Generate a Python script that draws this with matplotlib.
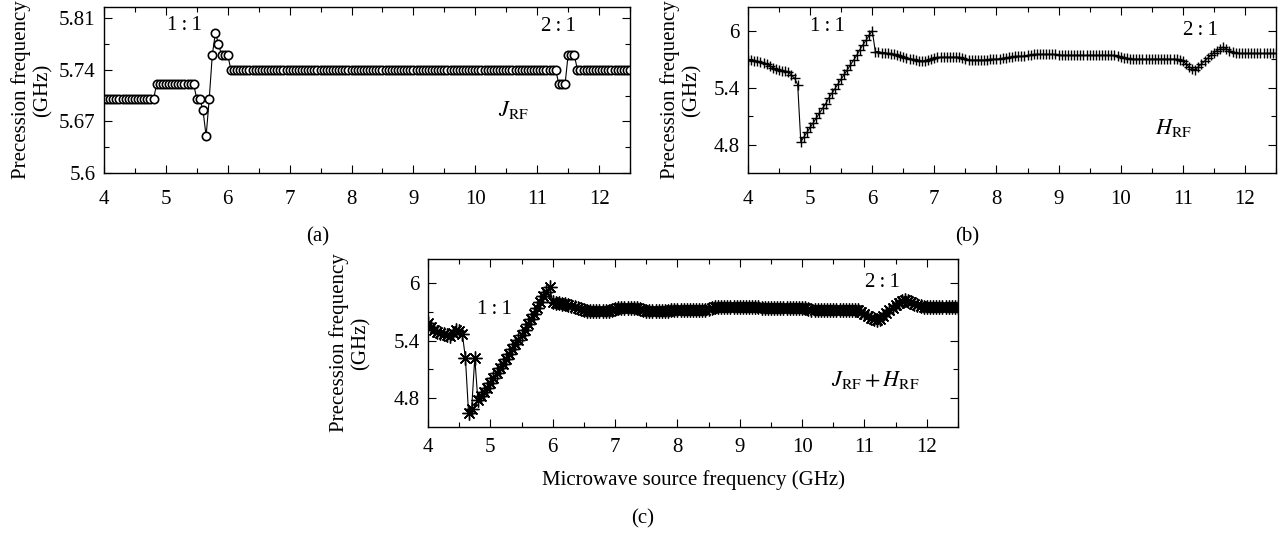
import numpy as np
import matplotlib
matplotlib.use("Agg")
import matplotlib.pyplot as plt
from matplotlib.ticker import MultipleLocator, FixedLocator

plt.rcParams['font.family'] = ['Liberation Serif', 'DejaVu Serif']
plt.rcParams['mathtext.fontset'] = 'stix'

# Microwave source frequency sweep (GHz), 0.05 GHz steps from 4 to 12.5
freq = np.round(np.arange(4.0, 12.5001, 0.05), 2)

# (a) J_RF : precession frequency (GHz)
prec_jrf = [
    5.70, 5.70, 5.70, 5.70, 5.70, 5.70, 5.70, 5.70, 5.70, 5.70,
    5.70, 5.70, 5.70, 5.70, 5.70, 5.70, 5.70, 5.72, 5.72, 5.72,
    5.72, 5.72, 5.72, 5.72, 5.72, 5.72, 5.72, 5.72, 5.72, 5.72,
    5.70, 5.70, 5.685, 5.65, 5.70, 5.76, 5.79, 5.775, 5.76, 5.76,
    5.76, 5.74, 5.74, 5.74, 5.74, 5.74, 5.74, 5.74, 5.74, 5.74,
    5.74, 5.74, 5.74, 5.74, 5.74, 5.74, 5.74, 5.74, 5.74, 5.74,
    5.74, 5.74, 5.74, 5.74, 5.74, 5.74, 5.74, 5.74, 5.74, 5.74,
    5.74, 5.74, 5.74, 5.74, 5.74, 5.74, 5.74, 5.74, 5.74, 5.74,
    5.74, 5.74, 5.74, 5.74, 5.74, 5.74, 5.74, 5.74, 5.74, 5.74,
    5.74, 5.74, 5.74, 5.74, 5.74, 5.74, 5.74, 5.74, 5.74, 5.74,
    5.74, 5.74, 5.74, 5.74, 5.74, 5.74, 5.74, 5.74, 5.74, 5.74,
    5.74, 5.74, 5.74, 5.74, 5.74, 5.74, 5.74, 5.74, 5.74, 5.74,
    5.74, 5.74, 5.74, 5.74, 5.74, 5.74, 5.74, 5.74, 5.74, 5.74,
    5.74, 5.74, 5.74, 5.74, 5.74, 5.74, 5.74, 5.74, 5.74, 5.74,
    5.74, 5.74, 5.74, 5.74, 5.74, 5.74, 5.74, 5.72, 5.72, 5.72,
    5.76, 5.76, 5.76, 5.74, 5.74, 5.74, 5.74, 5.74, 5.74, 5.74,
    5.74, 5.74, 5.74, 5.74, 5.74, 5.74, 5.74, 5.74, 5.74, 5.74,
    5.74,
]

# (b) H_RF
prec_hrf = [
    5.69, 5.69, 5.68, 5.68, 5.67, 5.66, 5.65, 5.63, 5.61, 5.60,
    5.59, 5.58, 5.575, 5.565, 5.53, 5.50, 5.43, 4.83, 4.88, 4.93,
    4.98, 5.03, 5.08, 5.13, 5.18, 5.23, 5.29, 5.34, 5.39, 5.44,
    5.49, 5.54, 5.59, 5.64, 5.69, 5.74, 5.80, 5.85, 5.90, 5.95,
    6.00, 5.78, 5.78, 5.77, 5.77, 5.76, 5.75, 5.75, 5.74, 5.73,
    5.72, 5.71, 5.70, 5.70, 5.69, 5.68, 5.68, 5.68, 5.69, 5.70,
    5.71, 5.72, 5.72, 5.72, 5.72, 5.72, 5.72, 5.72, 5.72, 5.71,
    5.70, 5.69, 5.69, 5.69, 5.69, 5.69, 5.69, 5.69, 5.70, 5.70,
    5.70, 5.70, 5.71, 5.71, 5.72, 5.72, 5.73, 5.73, 5.73, 5.73,
    5.74, 5.74, 5.75, 5.75, 5.75, 5.75, 5.75, 5.75, 5.75, 5.75,
    5.74, 5.74, 5.74, 5.74, 5.74, 5.74, 5.74, 5.74, 5.74, 5.74,
    5.74, 5.74, 5.74, 5.74, 5.74, 5.74, 5.74, 5.74, 5.74, 5.73,
    5.72, 5.71, 5.71, 5.70, 5.70, 5.70, 5.70, 5.70, 5.70, 5.70,
    5.70, 5.70, 5.70, 5.70, 5.70, 5.70, 5.70, 5.70, 5.70, 5.69,
    5.68, 5.65, 5.62, 5.60, 5.59, 5.62, 5.65, 5.68, 5.71, 5.74,
    5.77, 5.79, 5.81, 5.83, 5.81, 5.79, 5.78, 5.77, 5.76, 5.76,
    5.76, 5.76, 5.76, 5.76, 5.76, 5.76, 5.76, 5.76, 5.76, 5.76,
    5.76,
]

# (c) J_RF + H_RF
prec_both = [
    5.58, 5.54, 5.51, 5.49, 5.48, 5.47, 5.46, 5.45, 5.48, 5.51,
    5.50, 5.47, 5.22, 4.65, 4.69, 5.22, 4.78, 4.82, 4.86, 4.91,
    4.96, 5.01, 5.06, 5.11, 5.16, 5.21, 5.26, 5.31, 5.36, 5.41,
    5.46, 5.51, 5.57, 5.62, 5.68, 5.74, 5.80, 5.86, 5.91, 5.96,
    5.80, 5.79, 5.79, 5.78, 5.78, 5.77, 5.76, 5.75, 5.74, 5.73,
    5.72, 5.71, 5.71, 5.71, 5.71, 5.71, 5.71, 5.71, 5.71, 5.72,
    5.73, 5.735, 5.735, 5.735, 5.735, 5.735, 5.735, 5.735, 5.73, 5.72,
    5.71, 5.71, 5.71, 5.71, 5.71, 5.71, 5.71, 5.71, 5.715, 5.72,
    5.72, 5.72, 5.72, 5.72, 5.72, 5.72, 5.72, 5.72, 5.72, 5.72,
    5.73, 5.74, 5.745, 5.745, 5.745, 5.745, 5.745, 5.745, 5.745, 5.745,
    5.745, 5.745, 5.745, 5.745, 5.745, 5.745, 5.745, 5.74, 5.735, 5.735,
    5.735, 5.735, 5.735, 5.735, 5.735, 5.735, 5.735, 5.735, 5.735, 5.735,
    5.735, 5.735, 5.73, 5.72, 5.72, 5.72, 5.72, 5.72, 5.72, 5.72,
    5.72, 5.72, 5.72, 5.72, 5.72, 5.72, 5.72, 5.72, 5.72, 5.70,
    5.68, 5.66, 5.64, 5.62, 5.61, 5.63, 5.66, 5.69, 5.72, 5.74,
    5.77, 5.79, 5.81, 5.82, 5.81, 5.80, 5.78, 5.77, 5.76, 5.75,
    5.75, 5.75, 5.75, 5.75, 5.75, 5.75, 5.75, 5.75, 5.75, 5.75,
    5.75,
]

xticks = [4, 5, 6, 7, 8, 9, 10, 11, 12]
yticks_a = [5.6, 5.67, 5.74, 5.81]
yticklabels_a = ["5.6", "5.67", "5.74", "5.81"]
yticks_bc = [4.8, 5.4, 6.0]
yticklabels_bc = ["4.8", "5.4", "6"]

W, H = 1286, 533
fig = plt.figure(figsize=(W / 100, H / 100), dpi=100)

def px_axes(x0, y0, x1, y1):
    return fig.add_axes([x0 / W, 1 - y1 / H, (x1 - x0) / W, (y1 - y0) / H])

ax_a = px_axes(104, 7, 630, 173)
ax_b = px_axes(748, 7, 1276, 173)
ax_c = px_axes(428, 259, 958, 427)

TICK_FS = 15
LAB_FS = 15

def style(ax, yticks, ylabels, ylim, yminor, xpad, ylab_x):
    ax.set_xlim(4, 12.5)
    ax.set_ylim(*ylim)
    ax.set_xticks(xticks)
    ax.set_xticklabels([str(t) for t in xticks])
    ax.xaxis.set_minor_locator(MultipleLocator(0.5))
    ax.set_yticks(yticks)
    ax.set_yticklabels(ylabels)
    ax.yaxis.set_minor_locator(FixedLocator(yminor))
    ax.tick_params(which='both', direction='in', top=True, right=True,
                   labelsize=TICK_FS, width=0.8)
    ax.tick_params(axis='x', which='both', pad=xpad)
    ax.tick_params(axis='y', which='both', pad=6)
    ax.tick_params(which='major', length=6)
    ax.tick_params(which='minor', length=3.5)
    for s in ax.spines.values():
        s.set_linewidth(1.0)
    ax.set_ylabel("Precession frequency\n(GHz)", fontsize=LAB_FS,
                  linespacing=1.2)
    ax.yaxis.set_label_coords(ylab_x, 0.5)

# (a)
ax_a.plot(freq, prec_jrf, color='black', lw=0.8, marker='o', ms=6,
          mfc='white', mec='black', mew=1.2)
style(ax_a, yticks_a, yticklabels_a, (5.6, 5.825), [5.635, 5.705, 5.775],
      12, -0.097)
ax_a.text(0.152, 0.89, "1\u2009:\u20091", transform=ax_a.transAxes,
          ha='center', va='center', fontsize=LAB_FS)
ax_a.text(0.863, 0.88, "2\u2009:\u20091", transform=ax_a.transAxes,
          ha='center', va='center', fontsize=LAB_FS)
ax_a.text(0.778, 0.38, r"$J_{\mathrm{RF}}$", transform=ax_a.transAxes,
          ha='center', va='center', fontsize=LAB_FS + 1)

# (b)
ax_b.plot(freq, prec_hrf, color='black', lw=0.8, marker='+', ms=7.5, mew=1.0)
style(ax_b, yticks_bc, yticklabels_bc, (4.5, 6.25), [5.1, 5.7], 12, -0.087)
ax_b.text(0.15, 0.88, "1\u2009:\u20091", transform=ax_b.transAxes,
          ha='center', va='center', fontsize=LAB_FS)
ax_b.text(0.856, 0.86, "2\u2009:\u20091", transform=ax_b.transAxes,
          ha='center', va='center', fontsize=LAB_FS)
ax_b.text(0.805, 0.27, r"$H_{\mathrm{RF}}$", transform=ax_b.transAxes,
          ha='center', va='center', fontsize=LAB_FS + 1)

# (c)
ax_c.plot(freq, prec_both, color='black', lw=0.8, marker=(8, 2, 0), ms=10, mew=1.0)
style(ax_c, yticks_bc, yticklabels_bc, (4.5, 6.25), [5.1, 5.7], 8, -0.108)
ax_c.text(0.126, 0.70, "1\u2009:\u20091", transform=ax_c.transAxes,
          ha='center', va='center', fontsize=LAB_FS)
ax_c.text(0.857, 0.86, "2\u2009:\u20091", transform=ax_c.transAxes,
          ha='center', va='center', fontsize=LAB_FS)
ax_c.text(0.843, 0.28, r"$J_{\mathrm{RF}}+H_{\mathrm{RF}}$", transform=ax_c.transAxes,
          ha='center', va='center', fontsize=LAB_FS + 1)
ax_c.set_xlabel("Microwave source frequency (GHz)", fontsize=LAB_FS, labelpad=9)

fig.text(318 / W, 1 - 237 / H, "(a)", ha='center', va='center', fontsize=LAB_FS)
fig.text(967 / W, 1 - 237 / H, "(b)", ha='center', va='center', fontsize=LAB_FS)
fig.text(643 / W, 1 - 519 / H, "(c)", ha='center', va='center', fontsize=LAB_FS)

fig.savefig("out.png", dpi=100)
